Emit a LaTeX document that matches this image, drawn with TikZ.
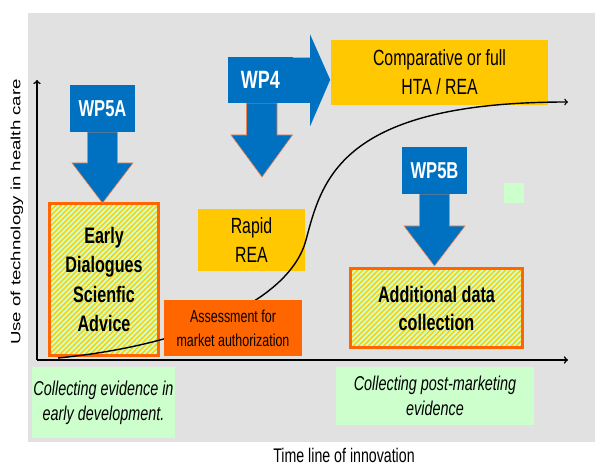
\documentclass[tikz,border=0pt]{standalone}
\usepackage{fontspec}
\setmainfont{Liberation Sans}
\newfontfamily\narrowfont{Liberation Sans}[FakeStretch=0.72]
\usepackage{graphicx}
\usetikzlibrary{calc,patterns.meta}
\definecolor{bggray}{RGB}{225,225,225}
\definecolor{wpblue}{RGB}{0,112,192}
\definecolor{gold}{RGB}{255,200,0}
\definecolor{hotorange}{RGB}{255,102,0}
\definecolor{palegreen}{RGB}{204,255,204}
\definecolor{stripe}{RGB}{255,204,0}
\definecolor{arrowedge}{RGB}{240,130,80}

\begin{document}
\begin{tikzpicture}[x=1pt,y=-1pt,
  wpbox/.style={fill=wpblue, text=white, minimum width=65pt, minimum height=47pt, inner sep=0pt, anchor=south, font=\narrowfont\bfseries\fontsize{23}{25}\selectfont},
  wparrow/.style={fill=wpblue, draw=arrowedge, line width=0.6pt},
  goldbox/.style={fill=gold, inner sep=0pt, align=center, font=\narrowfont\fontsize{22}{29}\selectfont},
  hatchbox/.style={draw=hotorange, line width=3pt, inner sep=0pt, align=center,
    preaction={fill=palegreen}, pattern={Lines[angle=45,distance=3.6pt,line width=1.4pt]}, pattern color=stripe,
    font=\narrowfont\bfseries\fontsize{22.4}{29.5}\selectfont},
  notebox/.style={fill=palegreen, inner sep=0pt, align=center, font=\narrowfont\itshape\fontsize{20}{25}\selectfont},
  axis/.style={line width=1.6pt, ->}
]
\useasboundingbox (0,0) rectangle (595,465);
\fill[bggray] (28,13) rectangle (595,442);

\node[goldbox, minimum width=217pt, minimum height=65pt] (comp) at (439.5,72.5) {Comparative or full\\HTA / REA};
\node[goldbox, minimum width=107pt, minimum height=62pt] (rapid) at (251.5,240) {Rapid\\REA};
\node[hatchbox, minimum width=109pt, minimum height=152pt] (early) at (104,279.5) {Early\\Dialogues\\Scienfic\\Advice};

\draw[line width=1.4pt, ->] (58,358) .. controls (190,345) and (290,300) .. (306,240)
  .. controls (322,180) and (340,102) .. (568,102);

\node[fill=hotorange, inner sep=0pt, minimum width=138pt, minimum height=56pt, align=center,
  font=\narrowfont\fontsize{17.3}{24}\selectfont] (assess) at (233,328) {Assessment for\\market authorization};

\coordinate (wpfiveatop) at (102.5,132);
\filldraw[wparrow] ($(wpfiveatop)+(-15,0)$) -- ++(0,31) -- ++(-15.5,0) -- ($(wpfiveatop)+(0,71)$)
  -- ($(wpfiveatop)+(30.5,31)$) -- ++(-15.5,0) -- ++(0,-31) -- cycle;
\node[wpbox] (wpfivea) at (wpfiveatop) {WP5A};

\coordinate (wpfourtop) at (260.5,103);
\filldraw[wparrow] ($(wpfourtop)+(-14,0)$) -- ++(0,32) -- ++(-15.5,0) -- ($(wpfourtop)+(1.5,74)$)
  -- ($(wpfourtop)+(32,32)$) -- ++(-15.5,0) -- ++(0,-32) -- cycle;
\node[wpbox, minimum height=46pt, font=\narrowfont\bfseries\fontsize{25}{27}\selectfont] (wpfour) at (wpfourtop) {WP4};
\fill[wpblue] ($(wpfour.north east)+(-1,1)$) -- ++(18,0) -- ++(0,-23) -- ($(wpfour.east)+(37,0)$)
  -- ($(wpfour.south east)+(17,23)$) -- ++(0,-23) -- ++(-18,0) -- cycle;

\coordinate (wpfivebtop) at (434.5,194);
\filldraw[wparrow] ($(wpfivebtop)+(-15,0)$) -- ++(0,32) -- ++(-15.5,0) -- ($(wpfivebtop)+(0,72)$)
  -- ($(wpfivebtop)+(30.5,32)$) -- ++(-15.5,0) -- ++(0,-32) -- cycle;
\node[wpbox] (wpfiveb) at (wpfivebtop) {WP5B};

\node[hatchbox, minimum width=172pt, minimum height=79pt, font=\narrowfont\bfseries\fontsize{22.5}{28}\selectfont] (addl) at (436.5,308) {Additional data\\collection};
\node[fill=palegreen, minimum size=20pt, inner sep=0pt] (square) at (513.5,193) {};

\node[notebox, minimum width=143pt, minimum height=71pt] (colearly) at (103.5,402.5) {Collecting evidence in\\early development.};
\node[notebox, minimum width=198pt, minimum height=58pt] (colpost) at (435,396) {Collecting post-marketing\\evidence};

\coordinate (origin) at (37,360);
\coordinate (ytop) at (37,80);
\coordinate (xend) at (568,360);
\draw[axis] (origin) -- (ytop);
\draw[axis] (origin) -- (xend);

\node[font=\narrowfont\fontsize{19.7}{22}\selectfont] (xlabel) at (344,455) {Time line of innovation};
\node (ylabel) at (17,212) {\scalebox{0.72}[1]{\rotatebox{90}{\fontsize{18.6}{20}\selectfont Use of technology in health care}}};
\end{tikzpicture}
\end{document}
